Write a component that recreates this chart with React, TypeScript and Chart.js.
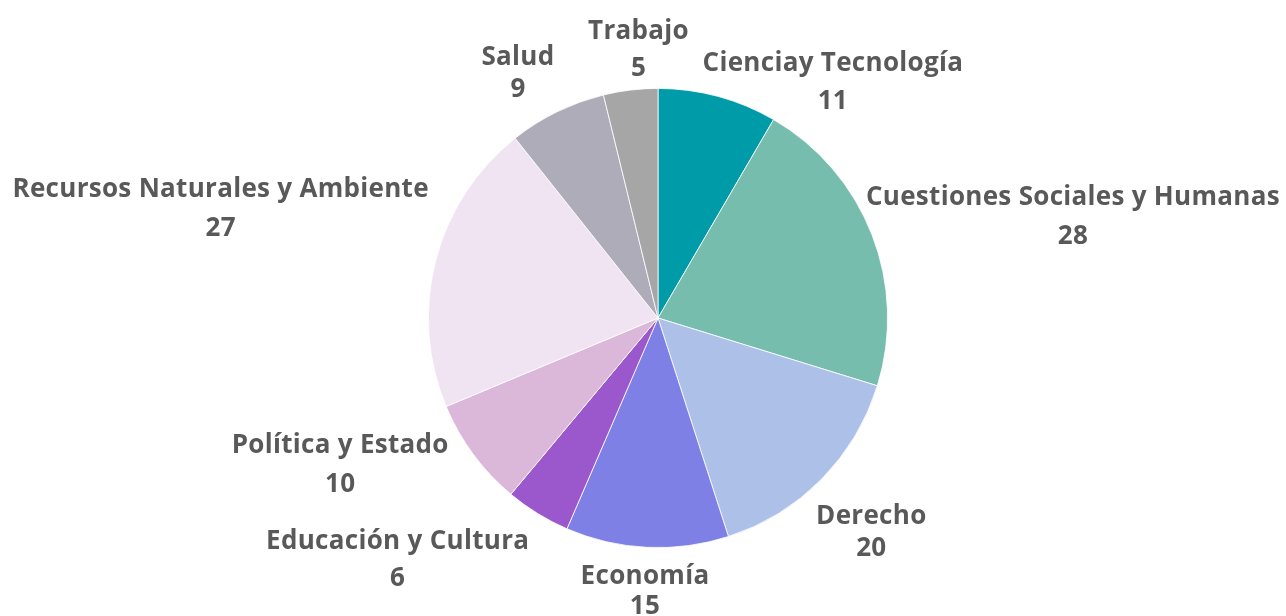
import React, { useEffect, useRef } from "react";
import { Chart, registerables } from "chart.js";

Chart.register(...registerables);

const categories = [
  "Cienciay Tecnología",
  "Cuestiones Sociales y Humanas",
  "Derecho",
  "Economía",
  "Educación y Cultura",
  "Política y Estado",
  "Recursos Naturales y Ambiente",
  "Salud",
  "Trabajo",
];
const values = [11, 28, 20, 15, 6, 10, 27, 9, 5];
const colors = [
  "#009BA9",
  "#77BDAE",
  "#ADC1E8",
  "#7E80E6",
  "#9B57CC",
  "#DBB8D9",
  "#F0E3F2",
  "#AEACB8",
  "#A6A6A6",
];
// label layout: offset of label block centre from the slice's outer mid point, and line gap
const labelDx = [115, 201, 50, -2, -140, -133, -215, -39, 8];
const labelDy = [-16, -19, 51, 42, 45, 9, -54, -40, -42];
const labelGap = [38, 39, 32, 30, 37, 39, 39, 32, 37];

const FONT_SIZE = 26;
const FONT = `bold ${FONT_SIZE}px "Open Sans"`;

const labelPlugin = {
  id: "outerLabels",
  afterDatasetsDraw(chart: any) {
    const ctx = chart.ctx;
    const meta = chart.getDatasetMeta(0);
    ctx.save();
    ctx.font = FONT;
    try {
      (ctx as any).letterSpacing = "0.3px";
    } catch (e) {}
    ctx.fillStyle = "#595959";
    ctx.textAlign = "center";
    ctx.textBaseline = "alphabetic";
    meta.data.forEach((arc: any, i: number) => {
      const { x, y, startAngle, endAngle, outerRadius } = arc.getProps(
        ["x", "y", "startAngle", "endAngle", "outerRadius"],
        true
      );
      const mid = (startAngle + endAngle) / 2;
      const ax = x + Math.cos(mid) * outerRadius + labelDx[i];
      const ay = y + Math.sin(mid) * outerRadius + labelDy[i];
      const capHalf = FONT_SIZE * 0.357;
      const g = labelGap[i] / 2;
      ctx.fillText(categories[i], ax, ay - g + capHalf);
      ctx.fillText(String(values[i]), ax, ay + g + capHalf);
    });
    ctx.restore();
  },
};

export default function App() {
  const ref = useRef<HTMLCanvasElement>(null);
  useEffect(() => {
    if (!ref.current) return;
    const chart = new Chart(ref.current, {
      type: "pie",
      data: {
        labels: categories,
        datasets: [
          {
            data: values,
            backgroundColor: colors,
            borderColor: "#ffffff",
            borderWidth: 0.8,
          },
        ],
      },
      options: {
        animation: false,
        responsive: false,
        maintainAspectRatio: false,
        layout: { padding: { top: 88, bottom: 68, left: 428, right: 398 } },
        plugins: {
          legend: { display: false },
          tooltip: { enabled: false },
        },
      },
      plugins: [labelPlugin],
    });
    if ((document as any).fonts && (document as any).fonts.load) {
      (document as any).fonts.load(FONT).then(() => chart.draw()).catch(() => {});
    }
    return () => chart.destroy();
  }, []);
  return (
    <div style={{ position: "absolute", left: 0, top: 0, width: 1286, height: 616, background: "#fff" }}>
      <canvas ref={ref} width={1286} height={616} style={{ width: 1286, height: 616 }} />
    </div>
  );
}
